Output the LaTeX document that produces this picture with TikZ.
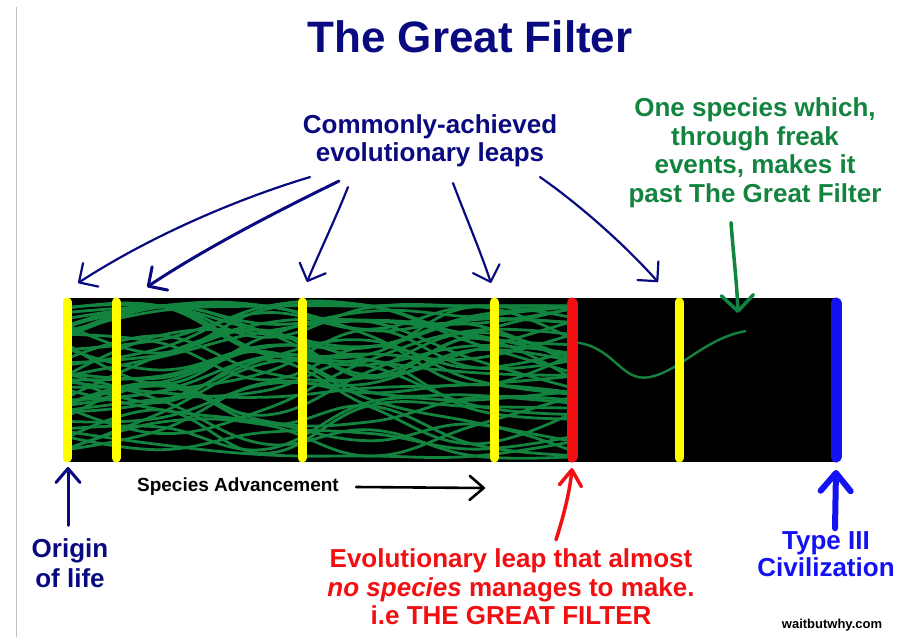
\documentclass[tikz,border=0pt]{standalone}
\usepackage{fontspec}
\setmainfont{Liberation Sans}
\usetikzlibrary{arrows.meta}
\definecolor{colorNavy}{HTML}{0A0A80}
\definecolor{colorSpecies}{HTML}{13843F}
\definecolor{colorFilter}{HTML}{F20F12}
\definecolor{colorCiv}{HTML}{1212F2}
\definecolor{colorLeap}{HTML}{FFFF00}

\begin{document}
\begin{tikzpicture}[x=1pt, y=-1pt,
        lbl/.style={font=\bfseries\fontsize{26}{28.5}\selectfont, align=center, inner sep=0pt},
        hand/.style={colorNavy, line width=2.2pt, line cap=round, -{Straight Barb[length=14pt, width=28pt, round]}},
        strand/.style={colorSpecies, line width=2.8pt},
        leapline/.style={colorLeap, line width=9pt, line cap=round}
    ]
    \useasboundingbox[fill=white] (0,0) rectangle (901,637);
    \draw[black!25, line width=1pt] (16,7) -- (16,637);

    % the timeline bar
    \fill[black] (67,298) rectangle (836,462);
    \begin{scope}
        \clip (67,299) rectangle (572,461);
        \pgfmathsetseed{2718}
        \foreach \k in {1,...,44}{
            \pgfmathsetmacro{\ya}{382+74*rand}
            \pgfmathsetmacro{\yb}{max(306,min(456,\ya+50*rand))}
            \pgfmathsetmacro{\yc}{max(306,min(456,\yb+50*rand))}
            \pgfmathsetmacro{\yd}{max(306,min(456,\yc+50*rand))}
            \pgfmathsetmacro{\ye}{max(306,min(456,\yd+50*rand))}
            \pgfmathsetmacro{\yf}{max(306,min(456,\ye+50*rand))}
            \draw[strand] plot[smooth, tension=0.7] coordinates {(55,\ya) (160,\yb) (265,\yc) (370,\yd) (475,\ye) (585,\yf)};
        }
    \end{scope}
    \draw[strand, line width=2.4pt] (572,342) .. controls (615,345) and (620,383) .. (650,377) .. controls (680,371) and (705,338) .. (746,331);
    \foreach \x in {67,116,302,494,679} \draw[leapline] (\x,302) -- (\x,458);
    \draw[leapline, colorFilter, line width=11pt] (572,303) -- (572,457);
    \draw[leapline, colorCiv, line width=11pt] (836,303) -- (836,457);

    % labels
    \node[font=\bfseries\fontsize{44}{48}\selectfont, colorNavy, inner sep=0pt] (title) at (470,37) {The Great Filter};
    \node[lbl, colorNavy] (leaps) at (430,141) {Commonly-achieved\\evolutionary leaps};
    \node[lbl, colorSpecies] (freak) at (755,153) {One species which,\\through freak\\events, makes it\\past The Great Filter};
    \node[lbl, colorNavy, font=\bfseries\fontsize{26}{30}\selectfont] (origin) at (70,563) {Origin\\of life};
    \node[font=\bfseries\fontsize{19}{22}\selectfont, inner sep=0pt] (advance) at (238,487) {Species Advancement};
    \node[lbl, colorFilter] (filter) at (511,587) {Evolutionary leap that almost\\\textit{no species} manages to make.\\i.e THE GREAT FILTER};
    \node[lbl, colorCiv, font=\bfseries\fontsize{26}{27}\selectfont] (civ) at (826,554) {Type III\\Civilization};
    \node[font=\bfseries\fontsize{13}{15}\selectfont, inner sep=0pt] (credit) at (832,625) {waitbutwhy.com};

    % arrow tips on the bar
    \coordinate (leapA) at (78,283);
    \coordinate (leapB) at (147,287);
    \coordinate (leapC) at (307,282);
    \coordinate (leapD) at (491,283);
    \coordinate (leapE) at (658,282);
    \coordinate (freakTip) at (738,313);
    \coordinate (originTip) at (68,467);
    \coordinate (advanceTip) at (485,488);
    \coordinate (filterTip) at (572,468);
    \coordinate (civTip) at (836,470);

    \draw[hand] ([shift={(-120,9.5)}]leaps.south) .. controls (250,195) and (160,230) .. (leapA);
    \draw[hand, line width=3pt] ([shift={(-91,13.5)}]leaps.south) .. controls (290,205) and (210,245) .. (leapB);
    \draw[hand] ([shift={(-82,19.5)}]leaps.south) .. controls (335,220) and (318,255) .. (leapC);
    \draw[hand] ([shift={(23,15.5)}]leaps.south) .. controls (465,215) and (480,250) .. (leapD);
    \draw[hand] ([shift={(110,9.5)}]leaps.south) .. controls (580,205) and (625,245) .. (leapE);
    \draw[colorSpecies, line width=3.5pt, line cap=round, -{Straight Barb[length=16pt, width=32pt, round]}] ([shift={(-24,14.5)}]freak.south) .. controls (733,250) and (737,285) .. (freakTip);
    \draw[colorNavy, line width=3pt, line cap=round, -{Straight Barb[length=14pt, width=24pt, round]}] ([shift={(-2,-13)}]origin.north) -- (originTip);
    \draw[line width=2.6pt, line cap=round, -{Straight Barb[length=14pt, width=24pt, round]}] ([xshift=17pt]advance.east) -- (advanceTip);
    \draw[colorFilter, line width=3.5pt, line cap=round, -{Straight Barb[length=16pt, width=22pt, round]}] ([shift={(45,-9)}]filter.north) .. controls (564,515) and (570,490) .. (filterTip);
    \draw[colorCiv, line width=6pt, line cap=round, -{Straight Barb[length=18pt, width=30pt, round]}] ([shift={(9,-3)}]civ.north) -- (civTip);
\end{tikzpicture}
\end{document}
